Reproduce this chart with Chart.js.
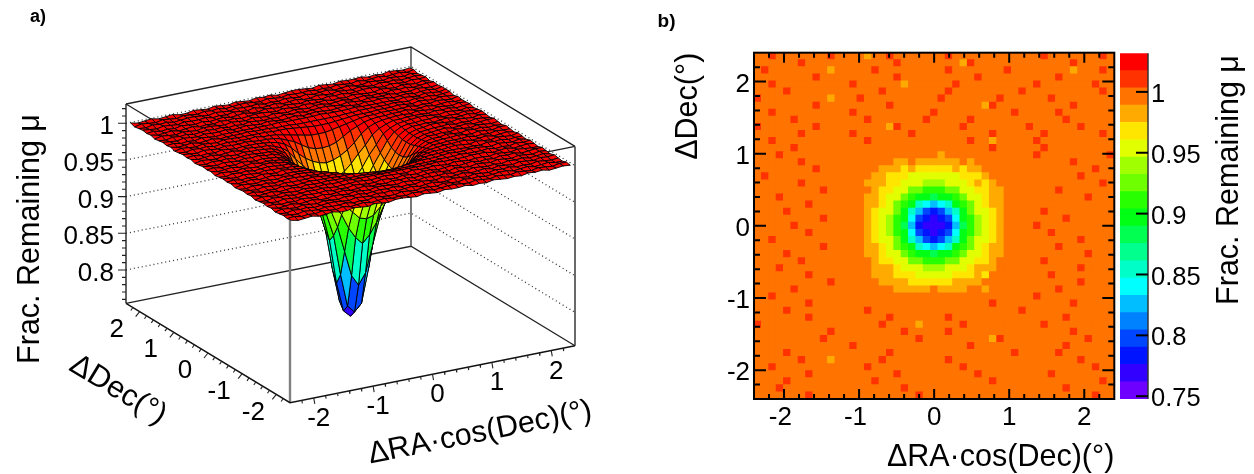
<!DOCTYPE html>
<html>
<head>
<meta charset="utf-8">
<style>
body { margin: 0; background: #fff; }
canvas { position: absolute; top: 0; }
#surfaceChart { left: 0; }
#heatChart { left: 640px; }
#barChart { left: 1120px; }
</style>
<script src="https://cdn.jsdelivr.net/npm/chart.js@4"></script>
</head>
<body>
<canvas id="surfaceChart" width="640" height="474"></canvas>
<canvas id="heatChart" width="480" height="474"></canvas>
<canvas id="barChart" width="134" height="474"></canvas>
<script>
/* tick values */
const axisTicks = [-2, -1, 0, 1, 2];
const minorTicks = [-2.2, -1.8, -1.6, -1.4, -1.2, -0.8, -0.6, -0.4, -0.2, 0.2, 0.4, 0.6, 0.8, 1.2, 1.4, 1.6, 1.8, 2.2];
const muTicks = [0.8, 0.85, 0.9, 0.95, 1];
const muMinorTicks = [0.76, 0.77, 0.78, 0.79, 0.81, 0.82, 0.83, 0.84, 0.86, 0.87, 0.88, 0.89, 0.91, 0.92, 0.93, 0.94, 0.96, 0.97, 0.98, 0.99, 1.01, 1.02];
const colorbarTicks = [0.75, 0.8, 0.85, 0.9, 0.95, 1];

/* contour levels of the colour bar */
const contourEdges = [0.7477, 0.7619, 0.7761, 0.7903, 0.8045, 0.8187, 0.8329, 0.8471, 0.8613, 0.8755, 0.8897, 0.9039, 0.9181, 0.9323, 0.9465, 0.9607, 0.9749, 0.9891, 1.0033, 1.0175, 1.0317];
const palette = ['rgb(110,0,255)', 'rgb(50,0,255)', 'rgb(0,20,255)', 'rgb(0,70,255)', 'rgb(0,130,255)', 'rgb(0,190,255)', 'rgb(0,255,255)', 'rgb(0,255,200)', 'rgb(0,255,140)', 'rgb(0,255,80)',
	'rgb(0,255,20)', 'rgb(40,255,0)', 'rgb(110,255,0)', 'rgb(160,255,0)', 'rgb(225,255,0)', 'rgb(255,230,0)', 'rgb(255,170,0)', 'rgb(255,115,0)', 'rgb(255,50,0)', 'rgb(255,0,0)'];

/* fraction remaining x100, panel b, rows from Dec +2.35 down to -2.35 */
const heatMu = [
[100,99,101,100,99,100,100,100,99,100,101,99,100,100,99,98,100,100,101,99,100,99,100,100,99,100,101,100,99,100,99,100,100,100,99,100,100,100,99,101,100,99,100,99,100,100,100,101,99],
[100,100,99,99,100,100,101,99,100,99,100,100,100,99,100,99,100,100,99,101,100,99,100,100,100,100,100,100,98,101,100,100,99,99,100,100,99,100,100,99,100,100,99,101,100,99,100,100,100],
[99,101,100,100,99,100,99,100,100,100,98,100,100,100,100,99,101,100,100,99,99,100,100,100,99,100,101,99,100,100,99,100,100,99,101,100,100,100,99,100,100,99,100,98,100,100,100,101,99],
[100,100,99,100,100,99,100,99,101,100,100,100,99,100,100,99,100,100,99,101,100,99,100,100,100,100,99,99,100,100,101,99,100,99,100,100,99,100,100,100,99,101,99,100,100,100,99,100,100],
[99,100,101,99,100,100,99,100,100,99,100,100,100,101,100,99,100,100,100,99,98,100,100,100,100,100,99,101,100,99,100,99,100,100,100,100,100,99,101,100,99,100,100,100,99,100,101,99,100],
[100,100,100,99,101,100,100,99,99,100,100,100,99,100,100,100,99,101,99,100,100,100,99,100,99,100,101,99,100,100,99,100,100,99,100,100,101,100,99,99,100,100,100,99,100,99,100,101,100],
[101,99,100,100,99,100,100,100,99,100,98,100,100,99,101,100,99,100,100,100,99,100,100,99,100,101,100,99,100,100,100,99,99,101,100,100,100,100,100,99,101,100,100,99,99,100,100,100,99],
[100,99,100,100,100,99,100,99,101,100,100,99,100,100,99,99,100,100,101,99,100,99,100,100,100,100,99,100,100,99,100,98,101,100,100,100,99,100,100,99,100,100,99,101,100,99,100,100,100],
[99,100,101,100,99,100,100,100,99,100,100,99,99,101,100,100,99,100,99,100,100,100,99,100,101,100,99,99,100,100,100,99,100,99,100,101,100,99,100,100,99,101,100,100,99,100,100,99,100],
[100,100,99,100,100,101,99,100,99,100,100,100,100,100,99,101,100,99,100,99,100,100,100,101,99,100,100,100,99,101,99,100,100,100,99,100,100,100,99,99,100,100,101,99,100,99,100,100,100],
[101,100,100,99,100,99,100,100,101,100,99,100,99,100,100,99,100,100,98,101,100,99,100,100,100,100,100,99,101,100,100,99,99,100,100,100,99,101,100,100,99,100,99,100,101,100,99,100,99],
[100,99,100,100,99,100,101,99,100,100,99,100,100,101,100,99,100,100,100,99,99,101,100,100,100,100,99,100,100,99,100,99,101,100,100,100,100,100,99,101,100,99,100,99,100,100,100,101,100],
[100,99,101,100,99,100,100,99,100,100,100,99,100,100,99,101,100,99,100,100,99,100,100,100,99,100,100,99,100,101,100,100,98,100,99,100,100,100,101,100,99,99,100,100,100,99,100,99,100],
[100,100,99,100,99,101,100,100,99,100,100,100,100,100,100,99,100,100,99,100,99,99,99,99,99,99,99,100,99,100,100,99,101,100,100,99,100,99,100,101,100,99,100,100,100,99,100,100,100],
[99,100,100,101,100,99,100,99,100,100,100,99,100,99,100,100,100,99,99,99,99,99,99,99,99,98,99,99,99,99,99,99,100,100,100,100,100,100,101,99,100,99,100,100,100,100,99,100,101],
[100,100,99,100,100,99,101,100,100,99,100,100,100,100,100,100,99,99,99,98,98,99,98,98,98,98,98,98,99,98,99,99,99,100,100,100,99,100,100,99,100,100,99,101,100,100,99,100,100],
[100,100,99,100,99,100,100,100,101,99,100,100,100,100,100,99,99,98,98,98,97,98,97,97,97,97,97,98,97,98,98,99,99,99,100,100,100,100,99,100,100,100,100,99,100,100,101,99,100],
[99,101,100,100,100,99,99,100,100,100,99,100,100,100,100,99,98,98,97,97,97,96,96,96,96,96,96,96,97,97,97,98,99,99,100,100,100,100,100,99,100,100,99,100,101,100,99,100,100],
[100,100,100,99,100,100,101,99,100,100,100,99,100,100,99,98,98,98,97,97,96,95,95,94,94,94,95,95,96,97,98,97,98,99,99,100,100,99,100,100,100,99,100,100,99,100,100,101,99],
[100,99,100,100,99,100,100,100,99,101,100,100,100,100,99,99,98,97,97,96,95,93,92,91,91,91,92,93,95,96,97,97,98,98,99,100,100,100,100,99,100,101,99,100,100,100,99,100,100],
[100,100,99,101,100,100,99,100,100,99,100,100,100,100,99,98,98,97,96,95,93,91,90,89,88,89,90,91,93,95,96,97,98,98,99,100,100,100,100,100,99,100,100,99,100,101,100,99,100],
[100,100,100,99,100,99,100,101,100,100,99,100,100,99,99,98,98,97,95,93,91,89,86,84,83,84,86,89,91,93,95,97,98,98,99,99,100,100,99,100,100,99,100,100,100,100,99,100,100],
[99,100,100,100,101,100,99,100,99,100,100,100,100,99,99,98,97,96,95,92,90,86,82,80,79,80,82,86,90,92,95,96,97,98,99,99,100,100,100,101,99,100,100,99,100,100,100,100,99],
[100,99,100,100,100,100,100,99,100,101,99,100,100,99,99,98,97,96,94,91,89,84,80,78,77,78,80,84,89,91,94,96,97,98,99,99,100,99,100,100,100,99,101,100,100,99,100,100,100],
[100,100,100,99,100,101,99,100,100,100,99,100,100,99,99,98,97,96,94,91,88,83,79,77,77,77,79,83,88,91,94,96,97,98,99,99,100,100,101,100,99,100,100,99,100,100,100,100,99],
[100,100,99,100,99,100,100,101,99,100,100,100,100,99,99,98,97,96,94,91,89,84,80,78,77,78,80,84,89,91,94,96,97,98,99,99,100,99,100,100,101,100,99,100,100,99,100,100,100],
[99,100,101,100,100,99,100,100,100,99,100,100,100,99,99,98,97,96,95,92,90,86,82,80,79,80,82,86,90,92,95,96,97,98,99,99,100,100,100,99,100,100,99,100,101,100,100,99,100],
[100,100,100,100,99,100,99,100,100,101,100,99,100,99,99,98,98,97,95,93,91,89,86,84,83,84,86,89,91,93,95,97,98,98,99,99,100,100,100,99,100,101,100,100,99,100,99,100,100],
[100,99,100,99,101,100,100,100,99,100,100,100,100,100,99,98,98,97,96,95,93,91,90,89,88,89,90,91,93,95,96,97,98,98,99,100,100,99,100,100,100,99,100,100,100,101,100,99,100],
[100,100,100,100,99,100,101,99,100,100,99,100,100,100,99,99,98,97,97,96,95,93,92,91,91,91,92,93,95,96,97,97,98,99,99,100,100,100,99,101,100,100,99,100,100,100,100,99,100],
[100,100,99,101,100,99,100,100,100,100,100,99,100,100,99,99,98,98,98,97,96,95,95,94,94,94,95,95,96,97,98,98,98,99,99,100,100,100,100,100,99,100,99,100,101,100,100,100,99],
[99,100,100,100,100,99,100,101,99,100,100,100,100,100,100,99,98,98,98,97,97,97,96,96,96,96,96,97,97,97,98,97,99,99,100,100,100,100,100,99,101,100,100,100,99,100,99,100,100],
[100,100,100,99,100,100,99,100,100,100,101,99,100,100,100,99,99,98,98,98,98,97,97,97,97,97,97,98,98,98,98,99,99,99,100,100,100,99,100,100,100,100,100,99,101,100,100,100,100],
[100,99,100,100,100,101,100,99,100,99,100,100,100,100,100,100,99,99,99,98,98,98,98,98,99,98,98,98,98,99,99,98,99,100,100,100,99,100,100,100,99,101,100,100,100,99,100,100,99],
[100,100,101,100,99,100,100,100,99,100,100,100,100,99,100,100,100,99,99,99,99,99,99,99,99,99,99,99,99,99,99,99,100,100,100,100,100,100,101,100,100,99,100,99,100,100,100,100,100],
[99,100,100,100,100,100,99,101,100,100,99,100,100,100,100,99,100,100,99,100,99,99,99,99,99,99,99,100,99,100,100,99,101,100,100,99,100,100,100,99,100,100,100,101,99,100,100,99,100],
[100,99,100,100,101,99,100,100,100,99,100,100,100,100,99,101,100,99,100,100,99,100,100,100,99,100,100,99,100,100,100,100,99,100,99,100,101,100,99,100,100,100,100,99,100,100,100,99,100],
[100,100,100,99,100,100,99,101,100,100,99,100,100,100,99,99,100,100,101,99,100,99,100,100,100,99,101,100,99,100,100,100,99,100,100,99,100,100,99,99,100,100,101,99,100,99,100,100,100],
[101,100,99,100,100,100,100,99,100,100,100,99,99,100,100,100,99,101,99,100,100,100,98,100,100,100,100,99,101,100,100,99,99,100,100,100,100,100,99,101,100,99,100,99,100,100,100,100,100],
[100,100,100,99,99,100,100,100,100,99,101,100,100,100,99,100,100,99,100,99,101,100,100,100,99,100,101,99,100,100,99,100,100,99,100,100,99,100,100,99,100,100,99,101,100,99,100,100,99],
[99,100,100,100,100,99,100,99,100,101,100,100,99,100,100,99,100,100,99,100,100,99,101,100,100,100,100,99,100,100,100,99,98,101,100,100,100,100,100,99,100,100,100,99,99,101,100,100,100],
[100,100,99,100,100,100,99,100,100,100,99,100,100,101,100,99,100,100,100,99,99,100,100,100,99,100,100,100,99,101,99,100,100,100,99,100,100,100,99,99,100,100,101,99,100,99,100,100,100],
[100,99,100,100,101,99,100,100,99,100,100,100,100,100,99,99,100,100,101,99,100,99,100,100,100,100,99,100,100,99,100,99,100,100,100,101,99,100,100,100,99,101,99,100,100,100,99,100,100],
[100,100,100,99,100,100,101,99,100,100,98,100,99,100,100,100,99,101,99,100,100,100,99,100,99,100,101,99,100,100,99,100,100,99,100,100,100,100,99,100,100,99,100,99,101,100,100,100,99],
[99,100,101,100,100,99,100,100,99,100,100,100,100,100,99,101,100,99,100,99,100,100,100,100,100,100,100,99,101,100,100,99,99,100,100,100,99,100,100,99,100,100,99,100,100,99,101,100,100],
[100,100,100,99,99,100,100,101,100,100,99,100,99,100,100,99,100,100,99,101,100,99,100,100,100,100,99,99,100,100,101,99,100,99,100,100,100,100,100,99,101,100,100,99,99,100,100,100,99],
[100,100,99,100,101,100,99,100,100,100,99,100,100,100,100,99,101,100,100,99,99,100,100,100,99,100,100,100,99,100,99,100,101,100,99,100,100,100,99,100,100,99,100,99,100,100,100,101,100],
[99,100,100,101,100,99,100,99,100,100,100,100,99,100,100,100,99,100,99,100,101,100,99,100,100,100,99,100,100,99,100,99,100,100,100,100,100,100,99,99,100,100,101,99,100,99,100,100,100],
[100,100,99,100,100,100,99,101,100,99,100,100,100,99,100,100,99,100,100,100,99,100,101,99,100,99,100,100,99,100,100,100,99,100,100,99,99,100,100,99,100,100,99,100,100,99,101,100,100]
];

/* fraction remaining x1000, panel a mesh nodes, rows from Dec +2.35 down to -2.35 */
const surfaceMu = [
[1001,999,1000,1001,999,1000,1001,999,999,1001,1000,999,1001,1000,999,1001,1000,999,1001,1000,1001,999,1000,1001,1001,1000,999,1001,1000,999,1001,1000,1000,1001,999,1000,999,1001,1000,999,1000],
[999,1001,1000,999,1001,1000,999,1001,1000,999,1001,1000,1001,999,1000,1001,1001,1000,999,1001,1000,999,1001,1000,1000,1001,999,1000,999,1001,1000,999,1001,999,1000,1001,999,1000,1001,999,1001],
[1000,999,1001,1000,1001,999,1000,1001,1001,1000,999,1001,1000,999,1001,1000,1000,1001,999,1000,999,1001,1000,999,1001,999,1000,1001,999,1000,1001,999,999,1001,1000,999,1001,1000,999,1001,999],
[1001,1000,999,1001,1000,999,1001,1000,1000,1001,999,1000,999,1001,1000,999,1001,999,1000,1001,999,1000,1001,999,999,1001,1000,999,1001,1000,999,1001,1000,999,1001,1000,1001,999,1000,1001,1000],
[1000,1001,999,1000,999,1001,1000,999,1001,999,1000,1001,999,1000,1001,999,999,1001,1000,999,1001,1000,999,1001,1000,999,1001,1000,1001,999,1000,1001,1001,1000,999,1001,1000,999,1001,1000,1001],
[1001,999,1000,1001,999,1000,1001,999,1000,999,1001,1000,1001,999,1000,1001,1001,1000,999,1001,1000,999,1001,1000,1000,1001,999,1000,999,1001,1000,999,999,1001,1000,999,1001,1000,999,1001,999],
[999,1001,1000,999,1001,1000,999,1001,1001,1000,999,1001,1000,999,1001,1000,999,1001,1000,999,1001,1000,999,1001,1001,999,1000,1001,999,1000,1001,999,1000,999,1001,1000,1001,999,1000,1001,1001],
[1000,999,1001,1000,1001,999,1000,1001,1000,1001,999,1000,999,1001,1000,999,1000,999,1001,1000,1001,999,1000,1001,1001,1000,999,1001,1000,999,1001,1000,1000,1001,999,1000,999,1001,1000,999,1000],
[1001,1000,999,1001,1000,999,1001,1000,1000,1001,999,1000,1001,1000,999,1001,1000,999,1000,1001,999,1000,1001,1000,999,1000,1001,1000,999,1001,1000,1001,1001,999,1000,1001,999,1000,1001,999,1001],
[1000,1001,999,1000,999,1001,1000,999,1000,1000,1000,1000,1000,1000,1000,1000,1001,1000,1000,1000,1000,1000,1001,1000,1000,1000,1000,1001,1000,1000,1000,1000,1000,999,1001,1000,999,1001,1000,999,1001],
[1001,999,1000,1001,999,1000,1001,999,1000,1000,1000,1001,1000,1000,1000,999,999,999,998,998,998,998,998,998,998,999,999,1000,1000,1000,1000,1000,1001,1000,999,1001,1000,1001,999,1000,1001],
[999,1001,1000,999,1001,1000,999,1001,1001,1000,1000,1000,1000,1000,999,999,999,998,997,996,995,995,995,996,997,998,999,999,999,1000,1000,1000,1001,1000,999,1001,1000,999,1001,1000,999],
[1000,999,1001,1000,1001,999,1000,1001,1000,1000,1000,1001,999,999,998,996,994,992,990,988,988,988,990,992,994,996,998,999,999,1000,1000,1000,1000,1001,999,1000,999,1001,1000,999,1001],
[1001,1000,999,1001,1000,999,1001,1000,1000,1001,1000,999,999,998,996,992,988,982,976,973,972,973,976,982,988,992,996,998,999,999,1000,1000,1001,999,1000,1001,999,1000,1001,999,1000],
[1000,1001,999,1000,999,1001,1000,999,1000,1000,1000,999,998,996,992,985,975,967,961,957,955,957,961,967,975,985,992,996,998,999,1000,1000,999,1001,1000,999,1001,1000,999,1001,1000],
[1001,999,1000,1001,999,1000,1001,999,1001,1000,999,999,996,992,985,973,963,952,943,937,935,937,943,952,963,973,985,992,996,999,999,1000,1000,1000,999,1001,1000,1001,999,1000,1001],
[999,1001,1000,999,1001,1000,999,1001,1000,1000,999,998,994,988,975,963,948,935,925,915,912,915,925,935,948,963,975,988,994,998,999,1000,1001,1001,1000,999,1001,1000,999,1001,999],
[1000,999,1001,1000,1001,999,1000,1001,1000,999,999,997,992,982,967,952,935,920,900,885,875,885,900,920,935,952,967,982,992,997,999,999,1000,1000,1001,999,1000,999,1001,1000,1000],
[1001,1000,999,1001,1000,999,1001,1000,1001,999,999,996,990,976,961,943,925,900,865,830,815,830,865,900,925,943,961,976,990,996,999,999,1000,999,1000,1001,999,1000,1001,999,1001],
[1000,1001,999,1000,999,1001,1000,999,1000,999,998,995,988,973,957,937,915,885,830,785,775,785,830,885,915,937,957,973,988,995,998,999,1001,1001,1000,999,1001,1000,999,1001,1000],
[1001,999,1000,1001,999,1000,1001,999,1000,999,998,995,988,972,955,935,912,875,815,775,766,775,815,875,912,935,955,972,988,995,998,999,1000,1000,1001,999,1000,999,1001,1000,999],
[999,1001,1000,999,1001,1000,999,1001,1001,999,998,995,988,973,957,937,915,885,830,785,775,785,830,885,915,937,957,973,988,995,998,999,1000,1001,999,1000,1001,999,1000,1001,1001],
[1000,999,1001,1000,1001,999,1000,1001,1000,999,999,996,990,976,961,943,925,900,865,830,815,830,865,900,925,943,961,976,990,996,999,999,1000,999,1001,1000,999,1001,1000,999,1000],
[1001,1000,999,1001,1000,999,1001,1000,1000,999,999,997,992,982,967,952,935,920,900,885,875,885,900,920,935,952,967,982,992,997,999,999,1001,1000,999,1001,1000,1001,999,1000,999],
[1000,1001,999,1000,999,1001,1000,999,1001,1000,999,998,994,988,975,963,948,935,925,915,912,915,925,935,948,963,975,988,994,998,999,1000,1000,1001,1000,999,1001,1000,999,1001,1001],
[1001,999,1000,1001,999,1000,1001,999,1000,1000,999,999,996,992,985,973,963,952,943,937,935,937,943,952,963,973,985,992,996,999,999,1000,1000,1000,1001,999,1000,999,1001,1000,1000],
[999,1001,1000,999,1001,1000,999,1001,1000,1001,1000,999,998,996,992,985,975,967,961,957,955,957,961,967,975,985,992,996,998,999,1000,1000,1001,1001,999,1000,1001,999,1000,1001,999],
[1000,999,1001,1000,1001,999,1000,1001,1001,1000,1000,999,999,998,996,992,988,982,976,973,972,973,976,982,988,992,996,998,999,999,1000,1001,1000,999,1001,1000,999,1001,1000,999,1001],
[1001,1000,999,1001,1000,999,1001,1000,1000,1000,1001,1000,999,999,998,996,994,992,990,988,988,988,990,992,994,996,998,999,999,1000,1000,1000,999,1000,999,1001,1000,1001,999,1000,1000],
[1000,1001,999,1000,999,1001,1000,999,1000,1001,1000,1000,1000,999,999,999,998,997,996,995,995,995,996,997,998,999,999,999,1000,1001,1000,1000,1001,1001,1000,999,1001,1000,999,1001,999],
[1001,999,1000,1001,999,1000,1001,999,1001,1000,1000,1001,1000,1000,999,999,999,998,998,998,998,998,998,998,999,999,999,1000,1000,1000,1001,1000,1000,1000,1001,999,1000,999,1001,1000,1001],
[999,1001,1000,999,1001,1000,999,1001,1000,1000,1001,1000,1000,1001,1000,1000,1000,1000,1000,1000,1000,1000,1000,1000,1000,1000,1001,1000,1000,1000,1000,1001,1001,1001,999,1000,1001,999,1000,1001,1000],
[1000,999,1001,1000,1001,999,1000,1001,1000,1001,1000,999,1000,1000,1001,1000,999,1000,1001,1000,1000,999,1001,1000,1000,1001,1000,999,1001,1000,999,1000,1000,999,1001,1000,999,1001,1000,999,999],
[1001,1000,999,1001,1000,999,1001,1000,1000,1001,999,1000,999,1001,1000,999,999,1001,1000,999,1001,1000,999,1001,1001,999,1000,1001,999,1000,1001,999,1000,999,1001,1000,1001,999,1000,1001,1001],
[1000,1001,999,1000,999,1001,1000,999,1001,999,1000,1001,999,1000,1001,999,1000,999,1001,1000,1001,999,1000,1001,1001,1000,999,1001,1000,999,1001,1000,999,1001,1000,999,1001,1000,999,1001,1000],
[1001,999,1000,1001,999,1000,1001,999,999,1001,1000,999,1001,1000,999,1001,1001,1000,999,1001,1000,999,1001,1000,1000,1001,999,1000,999,1001,1000,999,1000,999,1001,1000,1001,999,1000,1001,999],
[999,1001,1000,999,1001,1000,999,1001,1000,999,1001,1000,1001,999,1000,1001,1000,1001,999,1000,999,1001,1000,999,1001,999,1000,1001,999,1000,1001,999,1001,1000,999,1001,1000,999,1001,1000,1001],
[1000,999,1001,1000,1001,999,1000,1001,1001,1000,999,1001,1000,999,1001,1000,1001,999,1000,1001,999,1000,1001,999,999,1001,1000,999,1001,1000,999,1001,1000,1001,999,1000,999,1001,1000,999,1000],
[1001,1000,999,1001,1000,999,1001,1000,1000,1001,999,1000,999,1001,1000,999,999,1001,1000,999,1001,1000,999,1001,1000,999,1001,1000,1001,999,1000,1001,1001,999,1000,1001,999,1000,1001,999,999],
[1000,1001,999,1000,999,1001,1000,999,1001,999,1000,1001,999,1000,1001,999,1000,999,1001,1000,1001,999,1000,1001,1001,1000,999,1001,1000,999,1001,1000,999,1001,1000,999,1001,1000,999,1001,1001],
[1001,999,1000,1001,999,1000,1001,999,999,1001,1000,999,1001,1000,999,1001,1001,1000,999,1001,1000,999,1001,1000,1000,1001,999,1000,999,1001,1000,999,1000,999,1001,1000,1001,999,1000,1001,1000]
];

Chart.defaults.font.family = '"Liberation Sans", Arial, sans-serif';
Chart.defaults.color = '#000';

const RANGE = 2.4;
const muLow = 0.7546, muHigh = 1.0263;
const TICK_FONT = '26px "Liberation Sans"';
const TITLE_FONT = '30.5px "Liberation Sans"';
const MU_TITLE = 'Frac. Remaining \u03BC';
const RA_TITLE = '\u0394RA\u00B7cos(Dec)(\u00B0)';
const DEC_TITLE = '\u0394Dec(\u00B0)';

function putText(ctx, text, x, y, font, angle, align) {
	ctx.save();
	ctx.translate(x, y);
	ctx.rotate(angle || 0);
	ctx.font = font;
	ctx.fillStyle = '#000';
	ctx.textAlign = align || 'center';
	ctx.textBaseline = 'middle';
	ctx.fillText(text, 0, 0);
	ctx.restore();
}

/* ── panel a: box projection ── */
function project(ra, dec, mu) {
	const a = (ra + RANGE) / (2 * RANGE);
	const b = (dec + RANGE) / (2 * RANGE);
	const c = (mu - muLow) / (muHigh - muLow);
	return { x: 290 + a * 285 - b * 164, y: 402.7 - a * 57 - b * 99.4 - c * 199.3 };
}

function lineSet(points, color, width, dash) {
	return { data: points, showLine: true, pointRadius: 0, borderColor: color, borderWidth: width, borderDash: dash || [], tension: 0, fill: false, clip: false };
}

function surfaceColor(mu) {
	const i = Math.floor((mu - muLow) / 0.01227);
	return palette[Math.max(0, Math.min(19, i))];
}

function boxSets() {
	const sets = [];
	const top = muHigh, low = muLow, R = RANGE;
	// back walls and hidden top edges
	sets.push(lineSet([project(-R, R, low), project(R, R, low), project(R, -R, low)], '#222', 1.3));
	sets.push(lineSet([project(R, R, low), project(R, R, top)], '#555', 1.6));
	muTicks.forEach(function(m) {
		sets.push(lineSet([project(-R, R, m), project(R, R, m), project(R, -R, m)], '#333', 1.3, [1, 3]));
	});
	sets.push(lineSet([project(-R, R, top), project(R, R, top), project(R, -R, top)], '#222', 1.3));
	sets.push(lineSet([project(-R, R, top), project(-R, -R, top), project(R, -R, top)], '#222', 1.3));
	sets.push(lineSet([project(-R, R, low), project(-R, R, top)], '#222', 1.4));
	sets.push(lineSet([project(R, -R, low), project(R, -R, top)], '#444', 1.6));
	sets.push(lineSet([project(-R, -R, low), project(-R, -R, top)], '#808080', 2.4));
	sets.push(lineSet([project(-R, R, low), project(-R, -R, low), project(R, -R, low)], '#111', 1.4));
	return sets;
}

function tickSet() {
	const pts = [];
	const add = function(p, dx, dy) {
		pts.push(p, { x: p.x + dx, y: p.y + dy }, { x: NaN, y: NaN });
	};
	axisTicks.forEach(function(v) {
		add(project(v, -RANGE, muLow), 1, 6);
		add(project(-RANGE, v, muLow), -4, 5);
	});
	minorTicks.forEach(function(v) {
		add(project(v, -RANGE, muLow), 0.5, 3);
		add(project(-RANGE, v, muLow), -2, 3);
	});
	muTicks.forEach(function(m) { add(project(-RANGE, RANGE, m), -8, 0); });
	muMinorTicks.forEach(function(m) { add(project(-RANGE, RANGE, m), -4, 0); });
	return lineSet(pts, '#222', 1.1);
}

function surfaceSets() {
	const sets = [];
	const n = surfaceMu.length - 1;
	const step = 4.7 / n;
	const node = function(row, col) {
		return project(-2.35 + col * step, 2.35 - row * step, surfaceMu[row][col] / 1000);
	};
	// far corner first, the near cells paint over it
	for (let col = n - 1; col >= 0; col--) {
		for (let row = 0; row < n; row++) {
			const mean = (surfaceMu[row][col] + surfaceMu[row][col + 1] + surfaceMu[row + 1][col] + surfaceMu[row + 1][col + 1]) / 4000;
			const first = node(row, col);
			sets.push({
				data: [first, node(row, col + 1), node(row + 1, col + 1), node(row + 1, col), first],
				showLine: true, pointRadius: 0, tension: 0, clip: false, fill: 'shape',
				backgroundColor: surfaceColor(mean), borderColor: 'rgba(0,0,0,0.9)', borderWidth: 1
			});
		}
	}
	return sets;
}

const surfaceLabels = {
	id: 'surfaceLabels',
	afterDatasetsDraw: function(chart) {
		const ctx = chart.ctx;
		const sx = chart.scales.x, sy = chart.scales.y;
		axisTicks.forEach(function(v) {
			const p = project(v, -RANGE, muLow);
			putText(ctx, String(v), sx.getPixelForValue(p.x) + 5, sy.getPixelForValue(p.y) + 21, TICK_FONT);
			const q = project(-RANGE, v, muLow);
			putText(ctx, String(v), sx.getPixelForValue(q.x) - 23, sy.getPixelForValue(q.y) + 18, TICK_FONT);
		});
		muTicks.forEach(function(m) {
			const p = project(-RANGE, RANGE, m);
			putText(ctx, String(m), sx.getPixelForValue(p.x) - 12, sy.getPixelForValue(p.y) + 4, TICK_FONT, 0, 'right');
		});
		putText(ctx, MU_TITLE, 31, 239, TITLE_FONT, -Math.PI / 2);
		putText(ctx, DEC_TITLE, 118, 390, TITLE_FONT, Math.atan2(99.4, 164));
		putText(ctx, RA_TITLE, 480, 433, TITLE_FONT, -Math.atan2(57, 285));
		putText(ctx, 'a)', 38, 17, 'bold 18px "Liberation Sans"');
	}
};

new Chart(document.getElementById('surfaceChart'), {
	type: 'scatter',
	data: { datasets: boxSets().concat([tickSet()], surfaceSets()).reverse() },
	options: {
		responsive: false, animation: false, events: [],
		layout: { padding: 0 },
		plugins: { legend: { display: false }, tooltip: { enabled: false } },
		scales: {
			x: { type: 'linear', min: 0, max: 640, display: false },
			y: { type: 'linear', min: 0, max: 474, reverse: true, display: false }
		}
	},
	plugins: [surfaceLabels]
});

/* ── panel b: cells ── */
function heatColor(v) {
	let i = 0;
	while (i < 19 && v >= contourEdges[i + 1]) i++;
	return palette[i];
}

function heatPoints() {
	const pts = [];
	const size = 2 * RANGE / heatMu.length;
	heatMu.forEach(function(row, r) {
		row.forEach(function(v, c) {
			pts.push({ x: -RANGE + (c + 0.5) * size, y: RANGE - (r + 0.5) * size, v: v / 100 });
		});
	});
	return pts;
}

function useTicks(values) {
	return function(scale) { scale.ticks = values.map(function(v) { return { value: v }; }); };
}

const heatFrame = {
	id: 'heatFrame',
	afterDatasetsDraw: function(chart) {
		const ctx = chart.ctx, a = chart.chartArea;
		const sx = chart.scales.x, sy = chart.scales.y;
		ctx.save();
		ctx.strokeStyle = '#000';
		ctx.lineWidth = 2;
		ctx.strokeRect(a.left, a.top, a.right - a.left, a.bottom - a.top);
		const mark = function(v, lenX, lenY) {
			const px = sx.getPixelForValue(v), py = sy.getPixelForValue(v);
			ctx.beginPath();
			ctx.moveTo(px, a.bottom); ctx.lineTo(px, a.bottom - lenX);
			ctx.moveTo(px, a.top); ctx.lineTo(px, a.top + lenX);
			ctx.moveTo(a.left, py); ctx.lineTo(a.left + lenY, py);
			ctx.moveTo(a.right, py); ctx.lineTo(a.right - lenY, py);
			ctx.stroke();
		};
		axisTicks.forEach(function(v) { mark(v, 10, 12); });
		minorTicks.forEach(function(v) { mark(v, 5, 6); });
		ctx.restore();
		putText(ctx, 'b)', 26.5, 22, 'bold 19px "Liberation Sans"');
	}
};

new Chart(document.getElementById('heatChart'), {
	type: 'scatter',
	data: {
		datasets: [{
			data: heatPoints(),
			pointStyle: 'rect',
			pointRadius: 5.7,
			pointBorderWidth: 0,
			backgroundColor: function(c) { return heatColor(c.raw.v); }
		}]
	},
	options: {
		responsive: false, animation: false, events: [],
		layout: { padding: { top: 52.7, right: 2.3 } },
		plugins: { legend: { display: false }, tooltip: { enabled: false } },
		scales: {
			x: {
				type: 'linear', min: -RANGE, max: RANGE,
				grid: { display: false, drawTicks: false }, border: { display: false },
				afterBuildTicks: useTicks(axisTicks),
				afterFit: function(s) { s.height = 75; },
				ticks: { font: { size: 26 }, padding: 3, maxRotation: 0, autoSkip: false, callback: function(v) { return v < 0 ? v + ' ' : String(v); } },
				title: { display: true, text: RA_TITLE, align: 'end', font: { size: 30.5 }, padding: { top: 0, bottom: -2 } }
			},
			y: {
				type: 'linear', min: -RANGE, max: RANGE,
				grid: { display: false, drawTicks: false }, border: { display: false },
				afterBuildTicks: useTicks(axisTicks),
				afterFit: function(s) { s.width = 114; },
				ticks: { font: { size: 26 }, padding: 4, labelOffset: 3, autoSkip: false, callback: function(v) { return String(v); } },
				title: { display: true, text: DEC_TITLE, align: 'end', font: { size: 30.5 }, padding: { top: 30, bottom: 0 } }
			}
		}
	},
	plugins: [heatFrame]
});

/* ── colour bar ── */
const barFrame = {
	id: 'barFrame',
	afterDatasetsDraw: function(chart) {
		const ctx = chart.ctx, a = chart.chartArea, sy = chart.scales.y;
		ctx.save();
		ctx.strokeStyle = '#333';
		ctx.lineWidth = 1.5;
		ctx.beginPath();
		ctx.moveTo(a.right, a.top); ctx.lineTo(a.right, a.bottom);
		ctx.stroke();
		ctx.strokeStyle = '#000';
		ctx.lineWidth = 2;
		colorbarTicks.forEach(function(v) {
			const py = sy.getPixelForValue(v);
			ctx.beginPath();
			ctx.moveTo(a.right, py); ctx.lineTo(a.right - 12, py);
			ctx.stroke();
		});
		ctx.restore();
		putText(ctx, MU_TITLE, 110, 180, TITLE_FONT, -Math.PI / 2);
	}
};

new Chart(document.getElementById('barChart'), {
	type: 'bar',
	data: {
		labels: [''],
		datasets: palette.map(function(color, i) {
			return { data: [[contourEdges[i], contourEdges[i + 1]]], backgroundColor: color, borderWidth: 0, grouped: false, barPercentage: 1, categoryPercentage: 1 };
		})
	},
	options: {
		responsive: false, animation: false, events: [],
		layout: { padding: { top: 53.3, bottom: 75 } },
		plugins: { legend: { display: false }, tooltip: { enabled: false } },
		scales: {
			x: { display: false },
			y: {
				position: 'right', min: contourEdges[0], max: contourEdges[20],
				grid: { display: false, drawTicks: false }, border: { display: false },
				afterBuildTicks: useTicks(colorbarTicks),
				afterFit: function(s) { s.width = 106; },
				ticks: { font: { size: 25.5 }, padding: 3, labelOffset: 3, autoSkip: false, callback: function(v) { return String(v); } }
			}
		}
	},
	plugins: [barFrame]
});
</script>
</body>
</html>
